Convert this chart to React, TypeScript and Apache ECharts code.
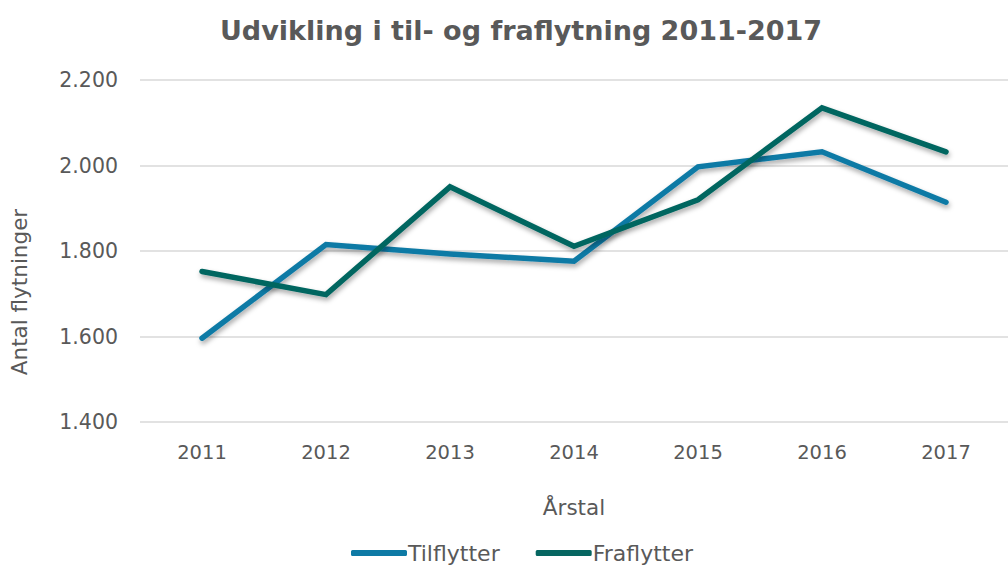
import React, { useEffect, useRef } from "react";
import * as echarts from "echarts";

const years = ["2011", "2012", "2013", "2014", "2015", "2016", "2017"];
const tilflytter = [1596, 1815, 1793, 1776, 1997, 2032, 1914];
const fraflytter = [1752, 1698, 1950, 1811, 1920, 2135, 2032];

const FONT = "'DejaVu Sans', Verdana, sans-serif";
const GRAY = "#595959";

export default function App() {
  const ref = useRef<HTMLDivElement>(null);
  useEffect(() => {
    if (!ref.current) return;
    const chart = echarts.init(ref.current, undefined, { renderer: "svg" });
    const fmt = (v: number) => {
      const s = String(Math.round(v));
      return s.length > 3 ? s.slice(0, s.length - 3) + "." + s.slice(-3) : s;
    };
    const lineStyle = (color: string) => ({
      color,
      width: 5.5,
      cap: "round" as const,
      join: "miter" as const,
      shadowColor: "rgba(0,0,0,0.35)",
      shadowBlur: 5,
      shadowOffsetX: 1,
      shadowOffsetY: 3,
    });
    chart.setOption({
      animation: false,
      backgroundColor: "#ffffff",
      textStyle: { fontFamily: FONT },
      title: {
        text: "Udvikling i til- og fraflytning 2011-2017",
        left: 516,
        textAlign: "center",
        top: 12,
        textStyle: { fontFamily: FONT, fontWeight: "bold", fontSize: 27, color: GRAY },
      },
      legend: {
        bottom: -2,
        left: 346,
        itemWidth: 56,
        itemHeight: 6,
        itemGap: 36,
        icon: "roundRect",
        textStyle: { fontFamily: FONT, fontSize: 22, color: GRAY, padding: [0, 0, 0, -4] },
        data: ["Tilflytter", "Fraflytter"],
      },
      graphic: [
        {
          type: "text",
          rotation: Math.PI / 2,
          x: 19,
          y: 292,
          style: {
            text: "Antal flytninger",
            font: `21.5px ${FONT}`,
            fill: GRAY,
            align: "center",
            verticalAlign: "middle",
          },
        },
      ],
      grid: { left: 140, right: -10, top: 80, bottom: 145 },
      xAxis: {
        type: "category",
        data: years,
        boundaryGap: true,
        axisLine: { show: false },
        axisTick: { show: false },
        axisLabel: { color: GRAY, fontSize: 19.5, margin: 20, fontFamily: FONT },
        name: "Årstal",
        nameLocation: "middle",
        nameGap: 74,
        nameTextStyle: { color: GRAY, fontSize: 21.5, fontFamily: FONT },
      },
      yAxis: {
        type: "value",
        min: 1400,
        max: 2200,
        interval: 200,
        axisLine: { show: false },
        axisTick: { show: false },
        axisLabel: { color: GRAY, fontSize: 20.5, margin: 22, fontFamily: FONT, formatter: fmt },
        splitLine: { lineStyle: { color: "#d9d9d9", width: 1.5 } },
      },
      series: [
        {
          name: "Tilflytter",
          type: "line",
          data: tilflytter,
          symbol: "none",
          color: "#0E7AA5",
          lineStyle: lineStyle("#0E7AA5"),
        },
        {
          name: "Fraflytter",
          type: "line",
          data: fraflytter,
          symbol: "none",
          color: "#066661",
          lineStyle: lineStyle("#066661"),
        },
      ],
    });
    return () => chart.dispose();
  }, []);
  return (
    <div
      ref={ref}
      style={{ position: "fixed", left: 0, top: 0, width: 1008, height: 567 }}
    />
  );
}
